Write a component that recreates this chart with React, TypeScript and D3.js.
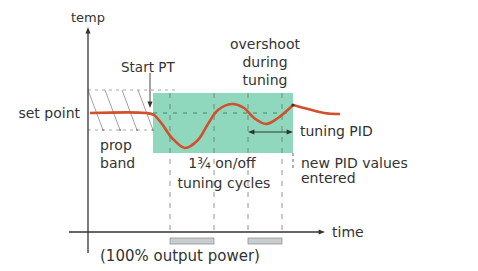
import * as d3 from "d3";

// response curve: [time, temp] (arbitrary units)
const tuningCurve: [number, number][] = [
  [0.1, 5.95], [2.9, 5.95], [3.3, 5.85], [3.7, 5.4], [4.2, 4.7], [4.85, 4.2],
  [5.5, 4.6], [6.0, 5.4], [6.5, 6.1], [7.2, 6.4], [7.8, 6.2], [8.3, 5.7],
  [8.9, 5.4], [9.5, 5.7], [10.25, 6.35],
];
const pidCurve: [number, number][] = [[10.25, 6.35], [11.0, 6.15], [11.8, 5.95], [12.6, 5.9]];

const setPoint = 5.95;
const propBand = [5.1, 7.1];
const tuningWindow = { start: 3.25, end: 10.25, top: 6.95, bottom: 3.95 };
const startPT = 3.1;
const cycleMarks = [4.1, 6.3, 8.0, 9.7];
const powerBars: [number, number][] = [[4.1, 6.3], [8.0, 9.7]];
const hatchStarts = [0, 0.85, 1.7, 2.5];

const width = 478;
const height = 271;

const x = d3.scaleLinear().domain([0, 12]).range([88, 328]);
const y = d3.scaleLinear().domain([0, 10]).range([232, 32]);

const line = d3.line<[number, number]>().x((d) => x(d[0])).y((d) => y(d[1])).curve(d3.curveCatmullRom);

const ink = "#333";
const font = "DejaVu Sans, sans-serif";

const Label = ({ x: lx, y: ly, anchor = "start", size = 14, children }: any) => (
  <text x={lx} y={ly} textAnchor={anchor} dominantBaseline="central" fontSize={size} fill={ink} fontFamily={font}>
    {children}
  </text>
);

export default function App() {
  const axX0 = x(-0.95), axX1 = x(11.85);
  const axY0 = y(-1.05), axY1 = y(10.25);
  const tip = (px: number, py: number, dir: "up" | "down" | "left" | "right") => {
    const s = 4;
    if (dir === "up") return `${px},${py} ${px - s / 1.6},${py + s * 1.6} ${px + s / 1.6},${py + s * 1.6}`;
    if (dir === "down") return `${px},${py} ${px - s / 1.6},${py - s * 1.6} ${px + s / 1.6},${py - s * 1.6}`;
    if (dir === "left") return `${px},${py} ${px + s * 1.6},${py - s / 1.6} ${px + s * 1.6},${py + s / 1.6}`;
    return `${px},${py} ${px - s * 1.6},${py - s / 1.6} ${px - s * 1.6},${py + s / 1.6}`;
  };
  const arrowY = y(5.0);

  return (
    <svg width={width} height={height} style={{ position: "absolute", left: 0, top: 0, background: "#fff" }}>
      {/* tuning window */}
      <rect
        x={x(tuningWindow.start)}
        y={y(tuningWindow.top)}
        width={x(tuningWindow.end) - x(tuningWindow.start)}
        height={y(tuningWindow.bottom) - y(tuningWindow.top)}
        fill="#8fd7bd"
      />

      {/* prop band */}
      <line x1={x(0)} x2={x(4.35)} y1={y(propBand[1])} y2={y(propBand[1])} stroke="#aaa" strokeDasharray="3,4" />
      <line x1={x(0)} x2={x(tuningWindow.start)} y1={y(propBand[0])} y2={y(propBand[0])} stroke="#aaa" strokeDasharray="3,4" />
      {hatchStarts.map((t) => (
        <g key={t}>
          <line x1={x(t)} y1={y(propBand[1])} x2={x(t + 0.75)} y2={y(propBand[0])} stroke="#888" strokeWidth={0.8} />
          <circle cx={x(t + 0.75)} cy={y(propBand[0])} r={1} fill="#888" />
        </g>
      ))}

      {/* set point dashed inside window */}
      <line x1={x(tuningWindow.start)} x2={x(tuningWindow.end)} y1={y(setPoint)} y2={y(setPoint)} stroke="#3a8a6a" strokeDasharray="4,6" />

      {/* cycle markers */}
      {cycleMarks.map((t) => (
        <line key={t} x1={x(t)} x2={x(t)} y1={y(tuningWindow.top)} y2={y(0)} stroke="#666" strokeOpacity={0.7} strokeDasharray="5,6" />
      ))}
      <line x1={x(tuningWindow.end)} x2={x(tuningWindow.end)} y1={y(tuningWindow.bottom)} y2={y(3.1)} stroke="#666" strokeDasharray="3,3" />

      {/* power bars */}
      {powerBars.map(([a, b]) => (
        <rect key={a} x={x(a)} y={y(0) + 6} width={x(b) - x(a)} height={6} fill="#c9cdd0" stroke="#888" strokeWidth={0.7} />
      ))}

      {/* axes */}
      <line x1={x(0)} x2={x(0)} y1={axY0} y2={axY1 + 4} stroke={ink} strokeWidth={1.3} />
      <polygon points={tip(x(0), axY1, "up")} fill={ink} />
      <line x1={axX0} x2={axX1 - 4} y1={y(0)} y2={y(0)} stroke={ink} strokeWidth={1.3} />
      <polygon points={tip(axX1, y(0), "right")} fill={ink} />

      {/* start PT arrow */}
      <line x1={x(startPT)} x2={x(startPT)} y1={73} y2={y(6.3)} stroke={ink} strokeWidth={0.9} />
      <polygon points={tip(x(startPT), y(6.2), "down")} fill={ink} />

      {/* tuning PID arrow */}
      <line x1={x(cycleMarks[2]) + 5} x2={x(tuningWindow.end) - 5} y1={arrowY} y2={arrowY} stroke={ink} strokeWidth={1} />
      <polygon points={tip(x(cycleMarks[2]), arrowY, "left")} fill={ink} />
      <polygon points={tip(x(tuningWindow.end), arrowY, "right")} fill={ink} />

      {/* curve */}
      <path d={line(tuningCurve) ?? ""} fill="none" stroke="#d2502e" strokeWidth={2.6} />
      <path d={line(pidCurve) ?? ""} fill="none" stroke="#d2502e" strokeWidth={2.6} />
      <circle cx={x(tuningWindow.end)} cy={y(6.35)} r={1.5} fill="#333" />

      {/* labels */}
      <Label x={x(0)} y={17} anchor="middle" size={13}>temp</Label>
      <Label x={121} y={67} size={13.5}>Start PT</Label>
      <Label x={265} y={44} anchor="middle">overshoot</Label>
      <Label x={265} y={62} anchor="middle">during</Label>
      <Label x={265} y={80} anchor="middle">tuning</Label>
      <Label x={80} y={y(setPoint)} anchor="end">set point</Label>
      <Label x={100} y={145}>prop</Label>
      <Label x={100} y={163}>band</Label>
      <Label x={222} y={163} anchor="middle">1¾ on/off</Label>
      <Label x={224} y={183} anchor="middle">tuning cycles</Label>
      <Label x={300} y={131}>tuning PID</Label>
      <Label x={301} y={163}>new PID values</Label>
      <Label x={301} y={178}>entered</Label>
      <Label x={332} y={y(0)}>time</Label>
      <Label x={100} y={256} size={15}>(100% output power)</Label>
    </svg>
  );
}
